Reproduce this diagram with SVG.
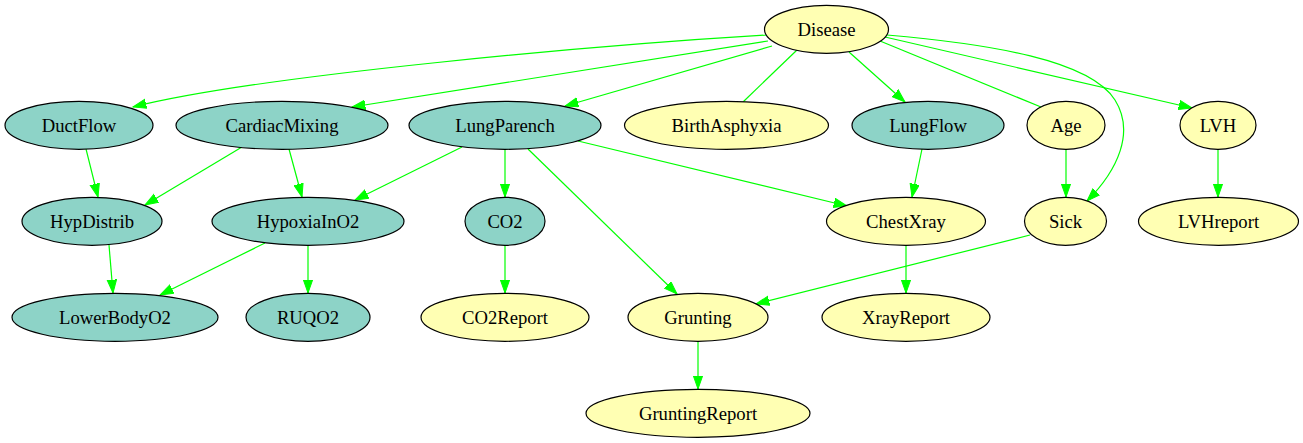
<svg xmlns="http://www.w3.org/2000/svg" width="1303" height="443" viewBox="0 0 1303 443">
<style>
.n ellipse{stroke:#000;stroke-width:1.2}
.t{fill:#8dd3c7}
.y{fill:#ffffb3}
.e path,.e line{stroke:#00ff00;stroke-width:1.2;fill:none}
.a{marker-end:url(#ah)}
</style>
<defs>
<marker id="ah" markerUnits="userSpaceOnUse" markerWidth="16" markerHeight="12" refX="13.3" refY="5" orient="auto">
<path d="M0,0.3 L13.3,5 L0,9.7 Z" fill="#00ff00" stroke="#00ff00" stroke-width="1"/>
</marker>
</defs>
<rect width="1303" height="443" fill="#fff"/>
<g id="edges" class="e">
<path class="a" d="M767,35 C600,45 260,75 133,107"/>
<line class="a" x1="768" y1="41" x2="352" y2="107"/>
<line class="a" x1="772" y1="46" x2="565" y2="106"/>
<line x1="797" y1="50" x2="743" y2="102"/>
<line class="a" x1="849" y1="52" x2="905" y2="102"/>
<line x1="880" y1="41" x2="1041" y2="107"/>
<line class="a" x1="885" y1="37" x2="1192" y2="108"/>
<path class="a" d="M887,35 C990,44 1090,60 1115,100 C1135,132 1118,170 1087,201"/>
<line class="a" x1="86" y1="149" x2="98" y2="197"/>
<line class="a" x1="242" y1="147" x2="145" y2="205"/>
<line class="a" x1="289" y1="149" x2="302" y2="197"/>
<line class="a" x1="462" y1="147" x2="355" y2="200"/>
<line class="a" x1="505" y1="149" x2="505" y2="197"/>
<line class="a" x1="528" y1="149" x2="677" y2="294"/>
<line class="a" x1="578" y1="141" x2="847" y2="206"/>
<line class="a" x1="922" y1="149" x2="912" y2="197"/>
<line class="a" x1="1066" y1="149" x2="1066" y2="197"/>
<line class="a" x1="1218" y1="149" x2="1218" y2="197"/>
<line class="a" x1="109" y1="245" x2="113" y2="293"/>
<line class="a" x1="265" y1="243" x2="160" y2="295"/>
<line class="a" x1="308" y1="245" x2="308" y2="293"/>
<line class="a" x1="505" y1="245" x2="505" y2="293"/>
<line class="a" x1="1030" y1="235" x2="756" y2="304"/>
<line class="a" x1="906" y1="245" x2="906" y2="293"/>
<line class="a" x1="698" y1="341" x2="698" y2="389"/>
</g>
<g font-family="Liberation Serif, Times New Roman, Tinos, DejaVu Serif, serif" font-size="18.67" text-anchor="middle" fill="#000">
<g id="Disease" class="n"><ellipse class="y" cx="826.5" cy="29.3" rx="62" ry="24"/><text x="826.5" y="35.5" font-family="Liberation Serif">Disease</text></g>
<g id="DuctFlow" class="n"><ellipse class="t" cx="79" cy="125.3" rx="74" ry="24"/><text x="79" y="131.5" font-family="Liberation Serif">DuctFlow</text></g>
<g id="CardiacMixing" class="n"><ellipse class="t" cx="282" cy="125.3" rx="106" ry="24"/><text x="282" y="131.5" font-family="Liberation Serif">CardiacMixing</text></g>
<g id="LungParench" class="n"><ellipse class="t" cx="505" cy="125.3" rx="96" ry="24"/><text x="505" y="131.5" font-family="Liberation Serif">LungParench</text></g>
<g id="BirthAsphyxia" class="n"><ellipse class="y" cx="726.5" cy="125.3" rx="102" ry="24"/><text x="726.5" y="131.5" font-family="Liberation Serif">BirthAsphyxia</text></g>
<g id="LungFlow" class="n"><ellipse class="t" cx="928" cy="125.3" rx="76" ry="24"/><text x="928" y="131.5" font-family="Liberation Serif">LungFlow</text></g>
<g id="Age" class="n"><ellipse class="y" cx="1066" cy="125.3" rx="39" ry="24"/><text x="1066" y="131.5" font-family="Liberation Serif">Age</text></g>
<g id="LVH" class="n"><ellipse class="y" cx="1218" cy="125.3" rx="38" ry="24"/><text x="1218" y="131.5" font-family="Liberation Serif">LVH</text></g>
<g id="HypDistrib" class="n"><ellipse class="t" cx="92" cy="221.3" rx="70" ry="24"/><text x="92" y="227.5" font-family="Liberation Serif">HypDistrib</text></g>
<g id="HypoxiaInO2" class="n"><ellipse class="t" cx="308" cy="221.3" rx="96" ry="24"/><text x="308" y="227.5" font-family="Liberation Serif">HypoxiaInO2</text></g>
<g id="CO2" class="n"><ellipse class="t" cx="505" cy="221.3" rx="40" ry="24"/><text x="505" y="227.5" font-family="Liberation Serif">CO2</text></g>
<g id="ChestXray" class="n"><ellipse class="y" cx="906" cy="221.3" rx="79.5" ry="24"/><text x="906" y="227.5" font-family="Liberation Serif">ChestXray</text></g>
<g id="Sick" class="n"><ellipse class="y" cx="1065.5" cy="221.3" rx="41" ry="24"/><text x="1065.5" y="227.5" font-family="Liberation Serif">Sick</text></g>
<g id="LVHreport" class="n"><ellipse class="y" cx="1218.5" cy="221.3" rx="80" ry="24"/><text x="1218.5" y="227.5" font-family="Liberation Serif">LVHreport</text></g>
<g id="LowerBodyO2" class="n"><ellipse class="t" cx="115" cy="317.3" rx="103" ry="24"/><text x="115" y="323.5" font-family="Liberation Serif">LowerBodyO2</text></g>
<g id="RUQO2" class="n"><ellipse class="t" cx="308" cy="317.3" rx="62" ry="24"/><text x="308" y="323.5" font-family="Liberation Serif">RUQO2</text></g>
<g id="CO2Report" class="n"><ellipse class="y" cx="505" cy="317.3" rx="84" ry="24"/><text x="505" y="323.5" font-family="Liberation Serif">CO2Report</text></g>
<g id="Grunting" class="n"><ellipse class="y" cx="698" cy="317.3" rx="70" ry="24"/><text x="698" y="323.5" font-family="Liberation Serif">Grunting</text></g>
<g id="XrayReport" class="n"><ellipse class="y" cx="906" cy="317.3" rx="84" ry="24"/><text x="906" y="323.5" font-family="Liberation Serif">XrayReport</text></g>
<g id="GruntingReport" class="n"><ellipse class="y" cx="698" cy="413.3" rx="112" ry="24"/><text x="698" y="419.5" font-family="Liberation Serif">GruntingReport</text></g>
</g>
</svg>
